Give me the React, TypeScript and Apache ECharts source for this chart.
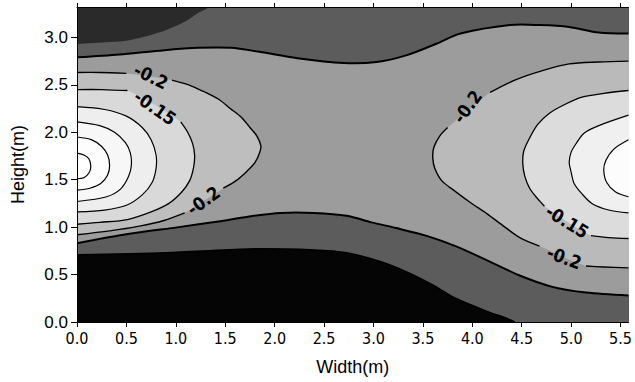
import React, { useEffect, useRef } from 'react';
import * as echarts from 'echarts';

// Axis ticks
const X_TICKS = [0, 0.5, 1, 1.5, 2, 2.5, 3, 3.5, 4, 4.5, 5, 5.5];
const Y_TICKS = [0, 0.5, 1, 1.5, 2, 2.5, 3];
const X_MAX = 5.58;
const Y_MAX = 3.32;

// Contour traces, [width (m), height (m)]
const DARK_CORNER = [[0, 2.93], [0.33, 2.95], [0.53, 2.97], [0.83, 3.05], [1.08, 3.16], [1.23, 3.26], [1.33, 3.32]];
const TOP_M025 = [[0, 2.79], [0.43, 2.82], [0.83, 2.86], [1.23, 2.89], [1.56, 2.89], [1.83, 2.85], [2.23, 2.78], [2.7, 2.73], [3.03, 2.74], [3.33, 2.81], [3.63, 2.93], [3.88, 3.04], [4.38, 3.13], [4.68, 3.13], [4.98, 3.11], [5.28, 3.05], [5.58, 3.04]];
const BOT_M025 = [[0, 0.83], [0.53, 0.93], [1.03, 1.0], [1.43, 1.06], [1.73, 1.11], [2.06, 1.15], [2.4, 1.15], [2.73, 1.12], [2.98, 1.05], [3.23, 0.99], [3.53, 0.91], [3.83, 0.8], [4.15, 0.65], [4.48, 0.49], [4.81, 0.37], [5.15, 0.31], [5.58, 0.28]];
const BLACK_M030 = [[0, 0.71], [0.9, 0.73], [1.73, 0.77], [2.4, 0.76], [2.73, 0.73], [3.06, 0.64], [3.33, 0.53], [3.6, 0.39], [3.83, 0.25], [4.13, 0.12], [4.43, 0.0]];

const L_M020_A = [[0, 2.63], [0.23, 2.63], [0.5, 2.62]];
const L_M020_B = [[0.96, 2.55], [1.13, 2.5], [1.28, 2.43], [1.43, 2.35], [1.55, 2.25], [1.66, 2.16], [1.75, 2.05], [1.82, 1.96], [1.86, 1.86], [1.85, 1.79], [1.8, 1.68], [1.72, 1.59], [1.61, 1.49], [1.48, 1.41]];
const L_M020_C = [[1.09, 1.15], [0.88, 1.07], [0.63, 1.01], [0.33, 0.96], [0, 0.92]];
const L_M015_A = [[0, 2.45], [0.25, 2.45], [0.51, 2.44]];
const L_M015_B = [[1.05, 2.11], [1.12, 2.0], [1.17, 1.88], [1.19, 1.76], [1.18, 1.63], [1.14, 1.49], [1.06, 1.37], [0.93, 1.25], [0.75, 1.16], [0.51, 1.08], [0.23, 1.05], [0, 1.03]];
const L_M010 = [[0, 2.27], [0.28, 2.24], [0.5, 2.17], [0.66, 2.05], [0.75, 1.92], [0.8, 1.76], [0.8, 1.62], [0.76, 1.47], [0.66, 1.34], [0.5, 1.23], [0.28, 1.18], [0, 1.16]];
const L_M005 = [[0, 2.11], [0.23, 2.07], [0.38, 2.0], [0.49, 1.89], [0.54, 1.78], [0.55, 1.65], [0.52, 1.53], [0.44, 1.4], [0.3, 1.32], [0, 1.27]];
const L_P000 = [[0, 1.95], [0.15, 1.92], [0.25, 1.85], [0.31, 1.76], [0.33, 1.65], [0.31, 1.55], [0.24, 1.46], [0.13, 1.41], [0, 1.39]];
const L_P005 = [[0, 1.78], [0.07, 1.76], [0.12, 1.72], [0.14, 1.64], [0.12, 1.57], [0.07, 1.52], [0, 1.51]];

const R_M020_A = [[5.58, 2.75], [5.28, 2.74], [4.98, 2.72], [4.71, 2.65], [4.43, 2.55], [4.18, 2.42]];
const R_M020_B = [[3.75, 2.05], [3.67, 1.96], [3.61, 1.84], [3.6, 1.73], [3.62, 1.62], [3.69, 1.49], [3.81, 1.39], [3.98, 1.26], [4.15, 1.14], [4.33, 1.0], [4.48, 0.89], [4.68, 0.8]];
const R_M020_C = [[5.15, 0.59], [5.33, 0.58], [5.58, 0.57]];
const R_M015_A = [[5.58, 2.44], [5.33, 2.41], [5.11, 2.37], [4.93, 2.29], [4.78, 2.2], [4.66, 2.08], [4.58, 1.94], [4.52, 1.8], [4.51, 1.68], [4.53, 1.54], [4.58, 1.41], [4.66, 1.3], [4.73, 1.22]];
const R_M015_B = [[5.2, 0.91], [5.38, 0.89], [5.58, 0.88]];
const R_M010 = [[5.58, 2.18], [5.28, 2.07], [5.13, 1.99], [5.05, 1.88], [5.0, 1.79], [4.98, 1.68], [5.0, 1.58], [5.03, 1.46], [5.11, 1.35], [5.21, 1.25], [5.38, 1.18], [5.58, 1.15]];
const R_M005 = [[5.58, 1.92], [5.43, 1.82], [5.35, 1.7], [5.33, 1.6], [5.36, 1.47], [5.45, 1.37], [5.58, 1.32]];

// Contour labels: [x, y, text, rotation(rad)]
const LABELS: [number, number, string, number][] = [
  [0.75, 2.59, '-0.2', -0.45],
  [0.79, 2.26, '-0.15', -0.6],
  [1.28, 1.28, '-0.2', 0.62],
  [3.95, 2.27, '-0.2', 0.95],
  [4.96, 1.06, '-0.15', -0.55],
  [4.93, 0.68, '-0.2', -0.35],
];

type Pt = number[];
const LX = -0.25;
const RX = 5.85;
const closeLeft = (pts: Pt[]) => [[LX, pts[0][1]], ...pts, [LX, pts[pts.length - 1][1]]];
const closeRight = (pts: Pt[]) => [[RX, pts[0][1]], ...pts, [RX, pts[pts.length - 1][1]]];

const FILLS: { pts: Pt[]; color: string }[] = [
  { pts: [[LX, -0.3], [RX, -0.3], [RX, 3.6], [LX, 3.6]], color: '#5c5c5c' },
  { pts: [[LX, 3.6], [LX, 2.93], ...DARK_CORNER, [1.45, 3.6]], color: '#2a2a2a' },
  { pts: [[LX, 2.79], ...TOP_M025, [RX, 3.04], [RX, 0.28], ...[...BOT_M025].reverse(), [LX, 0.83]], color: '#9c9c9c' },
  { pts: [[LX, -0.3], [LX, 0.71], ...BLACK_M030, [4.6, -0.3]], color: '#050505' },
  { pts: closeLeft([...L_M020_A, ...L_M020_B, ...L_M020_C]), color: '#bebebe' },
  { pts: closeLeft([...L_M015_A, ...L_M015_B]), color: '#d9d9d9' },
  { pts: closeLeft(L_M010), color: '#eeeeee' },
  { pts: closeLeft(L_M005), color: '#f7f7f7' },
  { pts: closeLeft(L_P000), color: '#fdfdfd' },
  { pts: closeLeft(L_P005), color: '#ffffff' },
  { pts: closeRight([...R_M020_A, ...R_M020_B, ...R_M020_C]), color: '#bababa' },
  { pts: closeRight([...R_M015_A, ...R_M015_B]), color: '#dcdcdc' },
  { pts: closeRight(R_M010), color: '#f0f0f0' },
  { pts: closeRight(R_M005), color: '#fcfcfc' },
];

const LINES: { pts: Pt[]; w: number }[] = [
  { pts: TOP_M025, w: 2 },
  { pts: BOT_M025, w: 2 },
  { pts: BLACK_M030, w: 1.5 },
  { pts: L_M020_A, w: 1.4 }, { pts: L_M020_B, w: 1.4 }, { pts: L_M020_C, w: 1.4 },
  { pts: L_M015_A, w: 1.3 }, { pts: L_M015_B, w: 1.3 },
  { pts: L_M010, w: 1.2 }, { pts: L_M005, w: 1.2 }, { pts: L_P000, w: 1.2 }, { pts: L_P005, w: 1.2 },
  { pts: R_M020_A, w: 1.4 }, { pts: R_M020_B, w: 1.4 }, { pts: R_M020_C, w: 1.4 },
  { pts: R_M015_A, w: 1.3 }, { pts: R_M015_B, w: 1.3 },
  { pts: R_M010, w: 1.2 }, { pts: R_M005, w: 1.2 },
];

const SMOOTH = 0.3;
const NARROW = '"Liberation Sans Narrow", "DejaVu Sans Condensed", "Liberation Sans", Arial, sans-serif';
const SANS = '"Liberation Sans", Arial, sans-serif';

export default function App() {
  const ref = useRef<HTMLDivElement>(null);
  useEffect(() => {
    const chart = echarts.init(ref.current!, null, { renderer: 'svg' });
    const axisCommon = {
      type: 'value' as const,
      z: 10,
      splitLine: { show: false },
      axisLine: { show: true, onZero: false, lineStyle: { color: '#000', width: 1 } },
    };
    chart.setOption({
      animation: false,
      backgroundColor: '#fff',
      grid: { left: 77, right: 0, top: 7, bottom: 60 },
      xAxis: [
        {
          ...axisCommon,
          position: 'bottom',
          min: 0,
          max: X_MAX,
          interval: 0.5,
          name: 'Width(m)',
          nameLocation: 'middle',
          nameGap: 36,
          nameTextStyle: { color: '#000', fontSize: 18, fontFamily: SANS },
          axisTick: { show: true, length: 5, lineStyle: { color: '#000' }, customValues: X_TICKS },
          axisLabel: {
            color: '#000', fontSize: 16, fontFamily: NARROW, margin: 8,
            customValues: X_TICKS,
            formatter: (v: number) => v.toFixed(1),
          },
        },
        {
          ...axisCommon,
          position: 'top',
          min: 0,
          max: X_MAX,
          interval: 0.5,
          axisTick: { show: true, length: 4, lineStyle: { color: '#000' }, customValues: X_TICKS },
          axisLabel: { show: false },
        },
      ],
      yAxis: {
        ...axisCommon,
        min: 0,
        max: Y_MAX,
        interval: 0.5,
        name: 'Height(m)',
        nameLocation: 'middle',
        nameGap: 50,
        nameTextStyle: { color: '#000', fontSize: 18, fontFamily: SANS },
        axisTick: { show: true, length: 6, lineStyle: { color: '#000' }, customValues: Y_TICKS },
        axisLabel: {
          color: '#000', fontSize: 17, fontFamily: SANS, margin: 9,
          customValues: Y_TICKS,
          formatter: (v: number) => v.toFixed(1),
        },
      },
      series: [
        {
          type: 'custom',
          coordinateSystem: 'cartesian2d',
          clip: true,
          silent: true,
          z: 1,
          data: FILLS.map(() => [0, 0]),
          renderItem: (params: any, api: any) => {
            const f = FILLS[params.dataIndex];
            return {
              type: 'polygon',
              shape: { points: f.pts.map((p) => api.coord(p)), smooth: SMOOTH },
              style: { fill: f.color, stroke: 'none' },
            };
          },
        },
        {
          type: 'custom',
          coordinateSystem: 'cartesian2d',
          clip: true,
          silent: true,
          z: 2,
          data: LINES.map(() => [0, 0]),
          renderItem: (params: any, api: any) => {
            const l = LINES[params.dataIndex];
            return {
              type: 'polyline',
              shape: { points: l.pts.map((p) => api.coord(p)), smooth: SMOOTH },
              style: { fill: 'none', stroke: '#000', lineWidth: l.w },
            };
          },
        },
        {
          type: 'custom',
          coordinateSystem: 'cartesian2d',
          clip: true,
          silent: true,
          z: 3,
          data: LABELS.map(() => [0, 0]),
          renderItem: (params: any, api: any) => {
            const [x, y, t, r] = LABELS[params.dataIndex];
            const c = api.coord([x, y]);
            return {
              type: 'text',
              x: c[0],
              y: c[1],
              rotation: r,
              style: {
                text: t,
                fill: '#000',
                fontSize: 18,
                fontWeight: 'bold',
                fontFamily: NARROW,
                align: 'center',
                verticalAlign: 'middle',
              },
            };
          },
        },
      ],
    });
    return () => chart.dispose();
  }, []);
  return <div ref={ref} style={{ position: 'fixed', left: 0, top: 0, width: 635, height: 382 }} />;
}
